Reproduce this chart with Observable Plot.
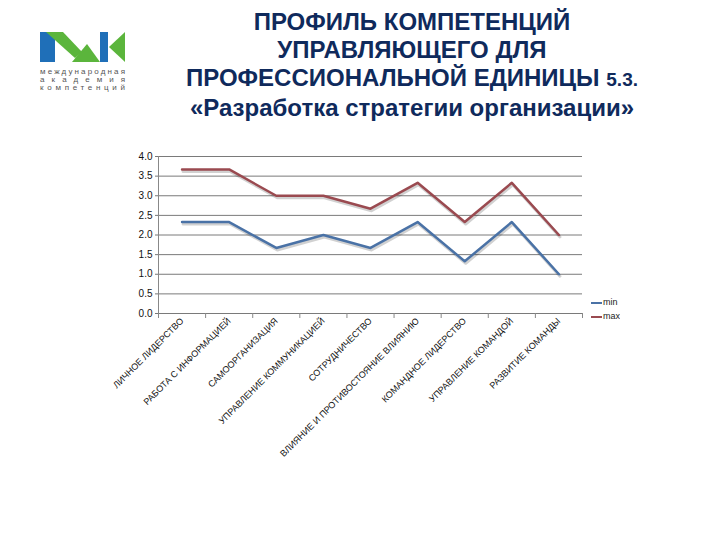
<!DOCTYPE html>
<html><head><meta charset="utf-8">
<script src="https://cdn.jsdelivr.net/npm/d3@7"></script>
<script src="https://cdn.jsdelivr.net/npm/@observablehq/plot@0.6"></script>
<style>
body{margin:0;background:#fff;}
#page{position:relative;width:720px;height:540px;overflow:hidden;font-family:"Liberation Sans",Arial,sans-serif;background:#fff;}
#title{position:absolute;left:112px;width:600px;top:8px;text-align:center;color:#0f2a5c;font-weight:bold;font-size:24px;line-height:28px;}
#title .sm{font-size:19px;}
#chart{position:absolute;left:0;top:140px;}
#logo{position:absolute;left:0;top:0;}
#legend{position:absolute;left:591px;top:295px;width:29px;overflow:hidden;font-size:9px;color:#222;white-space:nowrap;line-height:14px;}
#legend span.sw{display:inline-block;width:11px;height:2px;vertical-align:middle;margin-right:1px;}
</style></head>
<body>
<div id="page">
<svg id="logo" width="140" height="100">
  <polygon points="40,32 55,32 55,62 40,62" fill="#1f6fb8"/>
  <polygon points="46,32 63,32 82,52 75,58" fill="#5bb53c"/>
  <polygon points="72,62 87,44 100,62" fill="#5bb53c"/>
  <polygon points="100,32 108,32 108,62 100,62" fill="#1f6fb8"/>
  <polygon points="109,47 125,32 125,62" fill="#5bb53c"/>
  <text x="40" y="74" font-size="8" fill="#555" textLength="85" lengthAdjust="spacing" font-family="Liberation Sans">международная</text>
  <text x="40" y="82" font-size="8" fill="#555" textLength="85" lengthAdjust="spacing" font-family="Liberation Sans">академия</text>
  <text x="40" y="90" font-size="8" fill="#555" textLength="85" lengthAdjust="spacing" font-family="Liberation Sans">компетенций</text>
</svg>
<div id="title">ПРОФИЛЬ КОМПЕТЕНЦИЙ<br>УПРАВЛЯЮЩЕГО ДЛЯ<br>ПРОФЕССИОНАЛЬНОЙ ЕДИНИЦЫ <span class="sm">5.3.</span><br>«Разработка стратегии организации»</div>
<div id="chart"></div>
<div id="legend">
  <div><span class="sw" style="background:#4a72a6"></span>min</div>
  <div><span class="sw" style="background:#9a4a50"></span>max</div>
</div>
</div>
<script>
const categories = [
  "ЛИЧНОЕ ЛИДЕРСТВО",
  "РАБОТА С ИНФОРМАЦИЕЙ",
  "САМООРГАНИЗАЦИЯ",
  "УПРАВЛЕНИЕ КОММУНИКАЦИЕЙ",
  "СОТРУДНИЧЕСТВО",
  "ВЛИЯНИЕ И ПРОТИВОСТОЯНИЕ ВЛИЯНИЮ",
  "КОМАНДНОЕ ЛИДЕРСТВО",
  "УПРАВЛЕНИЕ КОМАНДОЙ",
  "РАЗВИТИЕ КОМАНДЫ"
];
const minValues = [2.33, 2.33, 1.67, 2.0, 1.67, 2.33, 1.33, 2.33, 1.0];
const maxValues = [3.67, 3.67, 3.0, 3.0, 2.67, 3.33, 2.33, 3.33, 2.0];
const yTicks = [0, 0.5, 1, 1.5, 2, 2.5, 3, 3.5, 4];

const minData = categories.map((c, i) => ({i, c, v: minValues[i]}));
const maxData = categories.map((c, i) => ({i, c, v: maxValues[i]}));
const boundaries = d3.range(categories.length + 1);
const centers = categories.map((c, i) => i + 0.5);

const chart = Plot.plot({
  width: 720, height: 320,
  marginLeft: 158, marginRight: 138, marginTop: 16, marginBottom: 147,
  style: {fontFamily: "Liberation Sans, Arial, sans-serif", background: "transparent", overflow: "visible", color: "#111"},
  x: {domain: [0, categories.length]},
  y: {domain: [0, 4]},
  marks: [
    Plot.gridY(yTicks, {stroke: "#7a7a7a", strokeOpacity: 1}),
    Plot.axisY(yTicks, {tickFormat: d3.format(".1f"), tickSize: 3, tickPadding: 3, fontSize: 10, label: null, stroke: "#777"}),
    Plot.ruleX([0], {stroke: "#888"}),
    Plot.axisX(boundaries, {tickSize: 5, tickFormat: () => "", label: null, stroke: "#888"}),
    Plot.axisX(centers, {tickSize: 0, tickPadding: 6, tickRotate: -45, fontSize: 9, label: null,
      tickFormat: d => categories[Math.floor(d)]}),
    Plot.line(minData, {x: d => d.i + 0.5, y: "v", stroke: "#000", strokeOpacity: 0.18, strokeWidth: 3, dx: 1, dy: 2}),
    Plot.line(maxData, {x: d => d.i + 0.5, y: "v", stroke: "#000", strokeOpacity: 0.18, strokeWidth: 3, dx: 1, dy: 2}),
    Plot.line(minData, {x: d => d.i + 0.5, y: "v", stroke: "#4a72a6", strokeWidth: 2.5}),
    Plot.line(maxData, {x: d => d.i + 0.5, y: "v", stroke: "#9a4a50", strokeWidth: 2.5})
  ]
});
document.getElementById("chart").appendChild(chart);
</script>
</body></html>
